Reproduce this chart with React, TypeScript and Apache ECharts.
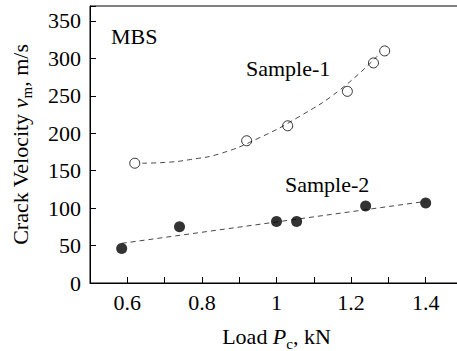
import React, { useEffect, useRef } from "react";
import * as echarts from "echarts";

// Sample-1 (open circles)
const sample1Load = [0.62, 0.92, 1.03, 1.19, 1.26, 1.29];
const sample1Vel = [160, 190, 210, 256, 294, 310];
// Sample-2 (filled circles)
const sample2Load = [0.585, 0.74, 1.0, 1.054, 1.239, 1.4];
const sample2Vel = [46, 75, 82, 82, 103, 107];
// Fit curves (dashed)
const fit1Load = [0.64, 0.7, 0.77, 0.85, 0.95, 1.06, 1.17, 1.27];
const fit1Vel = [160, 161, 165, 173, 193, 222, 258, 303];
const fit2Load = [0.585, 1.4];
const fit2Vel = [53, 109];

const xTickLabels = ["0.6", "0.8", "1", "1.2", "1.4"];
const yTickLabels = ["0", "50", "100", "150", "200", "250", "300", "350"];

const FONT = "Liberation Serif";

export default function App() {
  const ref = useRef<HTMLDivElement>(null);
  useEffect(() => {
    if (!ref.current) return;
    const chart = echarts.init(ref.current, null, { renderer: "svg" });
    const pair = (xs: number[], ys: number[]) => xs.map((x, i) => [x, ys[i]]);
    const annot = (x: number, y: number, text: string) => ({
      type: "text",
      x,
      y,
      style: { text, fontFamily: FONT, fontSize: 22, fill: "#000", verticalAlign: "middle" },
    });
    chart.setOption({
      animation: false,
      backgroundColor: "#fff",
      textStyle: { fontFamily: FONT, color: "#000" },
      grid: {
        left: 90,
        right: -6,
        top: 6,
        bottom: 68,
        show: true,
        borderColor: "#000",
        borderWidth: 1,
        containLabel: false,
        outerBoundsMode: "none",
      },
      xAxis: {
        type: "value",
        min: 0.5,
        max: 1.5,
        interval: 0.1,
        splitLine: { show: false },
        axisLine: { lineStyle: { color: "#000", width: 1 } },
        axisTick: { inside: true, length: 6, lineStyle: { color: "#000" } },
        axisLabel: {
          fontFamily: FONT,
          fontSize: 22,
          color: "#000",
          margin: 8,
          showMinLabel: true,
          showMaxLabel: true,
          formatter: (v: number) => {
            const s = String(Math.round(v * 10) / 10);
            return xTickLabels.includes(s) ? s : "";
          },
        },
        name: "{a|Load }{i|P}{s|c}{a|, kN}",
        nameLocation: "middle",
        nameGap: 38,
        nameTextStyle: {
          rich: {
            a: { fontFamily: FONT, fontSize: 22, color: "#000", lineHeight: 30 },
            i: { fontFamily: FONT, fontSize: 22, fontStyle: "italic", color: "#000", lineHeight: 30 },
            s: { fontFamily: FONT, fontSize: 15, color: "#000", lineHeight: 14, verticalAlign: "bottom" },
          },
        },
      },
      yAxis: {
        type: "value",
        min: 0,
        max: 370,
        interval: 50,
        splitLine: { show: false },
        axisLine: { show: true, lineStyle: { color: "#000", width: 1 } },
        axisTick: { show: true, inside: true, length: 6, lineStyle: { color: "#000" } },
        axisLabel: {
          fontFamily: FONT,
          fontSize: 22,
          color: "#000",
          margin: 9,
          formatter: (v: number) => {
            const s = String(Math.round(v));
            return yTickLabels.includes(s) ? s : "";
          },
        },
        name: "{a|Crack Velocity }{i|v}{s|m}{a|, m/s}",
        nameLocation: "middle",
        nameRotate: 90,
        nameGap: 56,
        nameTextStyle: {
          rich: {
            a: { fontFamily: FONT, fontSize: 22, color: "#000", lineHeight: 28 },
            i: { fontFamily: FONT, fontSize: 22, fontStyle: "italic", color: "#000", lineHeight: 28 },
            s: { fontFamily: FONT, fontSize: 15, color: "#000", lineHeight: 18, verticalAlign: "bottom" },
          },
        },
      },
      graphic: [
        annot(111, 36, "MBS"),
        annot(246, 68, "Sample-1"),
        annot(285, 184.5, "Sample-2"),
      ],
      series: [
        {
          type: "line",
          data: pair(fit1Load, fit1Vel),
          smooth: true,
          showSymbol: false,
          lineStyle: { color: "#333", width: 0.9, type: [5, 4] },
          z: 1,
        },
        {
          type: "line",
          data: pair(fit2Load, fit2Vel),
          showSymbol: false,
          lineStyle: { color: "#333", width: 0.9, type: [5, 4] },
          z: 1,
        },
        {
          type: "scatter",
          data: pair(sample1Load, sample1Vel),
          symbol: "circle",
          symbolSize: 10,
          itemStyle: { color: "rgba(0,0,0,0)", borderColor: "#000", borderWidth: 1 },
          z: 2,
        },
        {
          type: "scatter",
          data: pair(sample2Load, sample2Vel),
          symbol: "circle",
          symbolSize: 11,
          itemStyle: { color: "#000" },
          z: 3,
        },
      ],
    });
    return () => chart.dispose();
  }, []);
  return (
    <div
      ref={ref}
      style={{ position: "fixed", left: 0, top: 0, width: 457, height: 351 }}
    />
  );
}
